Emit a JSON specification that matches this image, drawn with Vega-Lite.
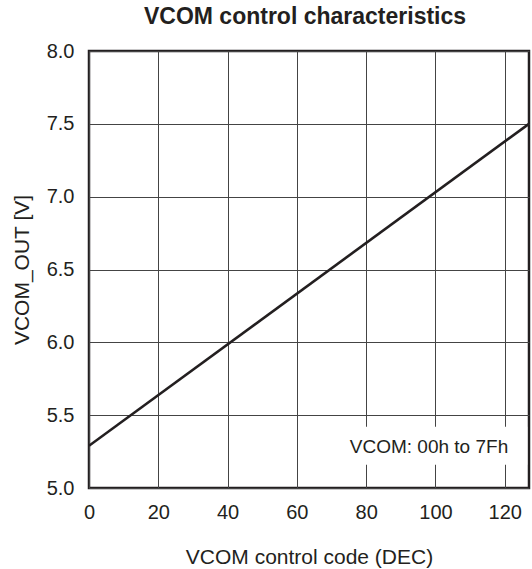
{
  "$schema": "https://vega.github.io/schema/vega-lite/v6.json",
  "width": 440,
  "height": 437,
  "autosize": {"type": "none"},
  "padding": {"left": 89, "top": 51, "right": 3, "bottom": 81},
  "background": "white",
  "config": {
    "font": "Liberation Sans",
    "view": {"stroke": "#231f20", "strokeWidth": 2.5},
    "axis": {
      "grid": true,
      "gridColor": "#444444",
      "gridWidth": 1,
      "gridOpacity": 1,
      "domain": false,
      "ticks": false,
      "labelFont": "Liberation Sans",
      "labelFontSize": 20,
      "labelColor": "#231f20",
      "titleFont": "Liberation Sans",
      "titleFontSize": 21,
      "titleFontWeight": "normal",
      "titleColor": "#231f20"
    }
  },
  "title": {
    "text": "VCOM control characteristics",
    "fontSize": 23,
    "fontWeight": "bold",
    "font": "Liberation Sans",
    "color": "#231f20",
    "offset": 12,
    "dx": -4
  },
  "layer": [
    {
      "data": {"values": [
        {"code": 0, "vout": 5.29},
        {"code": 127, "vout": 7.5}
      ]},
      "mark": {"type": "line", "color": "#231f20", "strokeWidth": 2.6, "clip": true},
      "encoding": {
        "x": {
          "field": "code", "type": "quantitative",
          "scale": {"domain": [0, 127], "nice": false, "zero": false},
          "axis": {"title": "VCOM control code (DEC)", "values": [0, 20, 40, 60, 80, 100, 120], "labelPadding": 14, "titlePadding": 24, "labelFlush": false}
        },
        "y": {
          "field": "vout", "type": "quantitative",
          "scale": {"domain": [5, 8], "nice": false, "zero": false},
          "axis": {"title": "VCOM_OUT [V]", "values": [5, 5.5, 6, 6.5, 7, 7.5, 8], "format": ".1f", "labelPadding": 15, "titlePadding": 14, "labelFlush": false}
        }
      }
    },
    {
      "data": {"values": [{"x1": 73, "x2": 126.5, "y1": 5.16, "y2": 5.42}]},
      "mark": {"type": "rect", "fill": "white", "stroke": null},
      "encoding": {
        "x": {"field": "x1", "type": "quantitative"},
        "x2": {"field": "x2"},
        "y": {"field": "y1", "type": "quantitative"},
        "y2": {"field": "y2"}
      }
    },
    {
      "data": {"values": [{"x": 121, "y": 5.28, "label": "VCOM: 00h to 7Fh"}]},
      "mark": {"type": "text", "align": "right", "baseline": "middle", "fontSize": 19, "font": "Liberation Sans", "color": "#231f20"},
      "encoding": {
        "x": {"field": "x", "type": "quantitative"},
        "y": {"field": "y", "type": "quantitative"},
        "text": {"field": "label"}
      }
    }
  ]
}
